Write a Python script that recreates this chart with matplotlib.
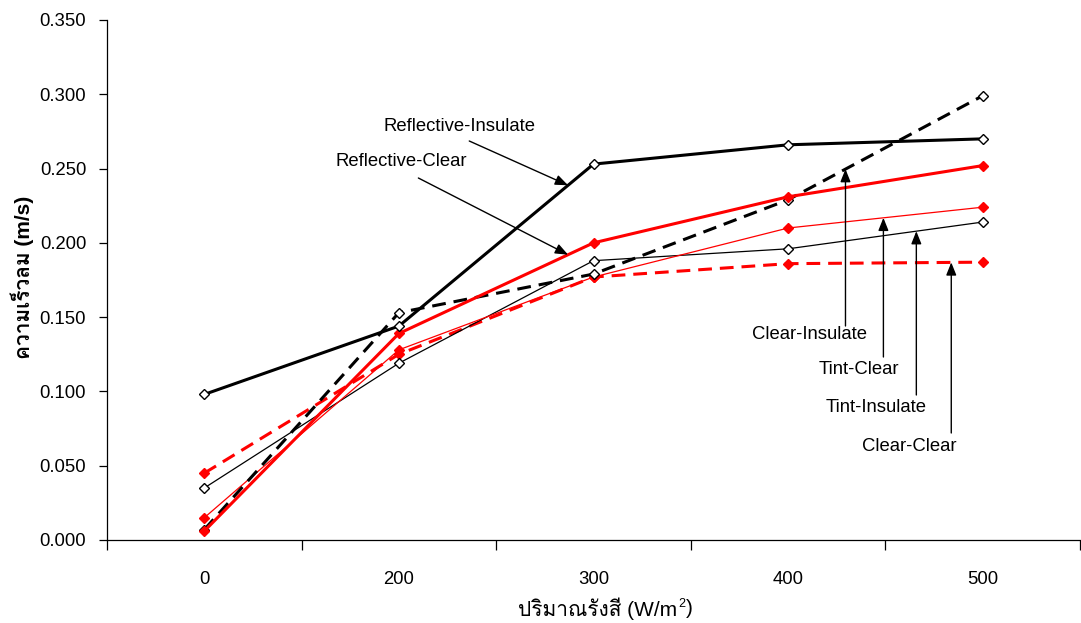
import numpy as np
import matplotlib
matplotlib.use("Agg")
import matplotlib.pyplot as plt
from matplotlib import font_manager, ft2font
from matplotlib.ticker import FixedLocator, FormatStrFormatter

# ---- data -------------------------------------------------------------
radiation = ["0", "200", "300", "400", "500"]

reflective_insulate = [0.098, 0.144, 0.253, 0.266, 0.270]
reflective_clear    = [0.006, 0.139, 0.200, 0.231, 0.252]
clear_insulate      = [0.007, 0.153, 0.179, 0.229, 0.299]
tint_clear          = [0.015, 0.128, 0.177, 0.210, 0.224]
tint_insulate       = [0.035, 0.119, 0.188, 0.196, 0.214]
clear_clear         = [0.045, 0.125, 0.177, 0.186, 0.187]

x_label_main = "ปริมาณรังสี (W/m"
x_label_sup = "2"
x_label_end = ")"
y_label = "ความเร็วลม (m/s)"


# ---- fonts: Latin face plus a face that covers Thai --------------------
def find_thai_family():
    seen = set()
    for f in font_manager.fontManager.ttflist:
        if f.fname in seen:
            continue
        seen.add(f.fname)
        try:
            cmap = ft2font.FT2Font(f.fname).get_charmap()
        except Exception:
            continue
        if 0x0E1B in cmap and 0x0E21 in cmap:
            return f.name
    return None


thai = find_thai_family()
families = ["Liberation Sans"] + ([thai] if thai else []) + ["DejaVu Sans"]
plt.rcParams["font.family"] = families

W, H, DPI = 1081, 623, 100
fig = plt.figure(figsize=(W / DPI, H / DPI), dpi=DPI)
ax = fig.add_axes([107 / W, 1 - 540 / H, (1080 - 107) / W, (540 - 20) / H])

xi = np.arange(len(radiation))

THICK, THIN = 2.2, 0.9
dash = (0, (4.5, 2.6))
ms = 4.6
FS = 13.3


def open_marks(color="black"):
    return dict(marker="D", markersize=ms, markerfacecolor="white",
                markeredgecolor=color, markeredgewidth=1.0)


def solid_marks(color="red"):
    return dict(marker="D", markersize=ms + 0.6, markerfacecolor=color,
                markeredgecolor=color, markeredgewidth=1.0)


ax.plot(xi, clear_clear, color="red", lw=THICK, linestyle=dash, **solid_marks(), zorder=3)
ax.plot(xi, tint_insulate, color="black", lw=THIN, **open_marks(), zorder=3)
ax.plot(xi, tint_clear, color="red", lw=THIN, **solid_marks(), zorder=3)
ax.plot(xi, clear_insulate, color="black", lw=THICK, linestyle=dash, **open_marks(), zorder=4)
ax.plot(xi, reflective_clear, color="red", lw=THICK, **solid_marks(), zorder=4)
ax.plot(xi, reflective_insulate, color="black", lw=THICK, **open_marks(), zorder=5)

# ---- axes -------------------------------------------------------------
ax.set_xlim(-0.5, len(radiation) - 0.5)
ax.set_ylim(0, 0.35)
ax.spines["top"].set_visible(False)
ax.spines["right"].set_visible(False)
for s in ("left", "bottom"):
    ax.spines[s].set_linewidth(0.9)
    ax.spines[s].set_color("black")

ax.yaxis.set_major_locator(FixedLocator(np.arange(0, 0.351, 0.05)))
ax.yaxis.set_major_formatter(FormatStrFormatter("%.3f"))
ax.tick_params(axis="y", direction="out", length=6, width=0.9, labelsize=FS, pad=9)

# category boundaries carry the tick marks, centres carry the labels
ax.xaxis.set_major_locator(FixedLocator(np.arange(-0.5, len(radiation), 1.0)))
ax.xaxis.set_major_formatter(plt.NullFormatter())
ax.xaxis.set_minor_locator(FixedLocator(xi))
ax.set_xticklabels(radiation, minor=True)
ax.tick_params(axis="x", which="major", direction="out", length=7, width=0.9)
ax.tick_params(axis="x", which="minor", length=0, labelsize=FS, pad=22)

fig.text(22 / W, 1 - 277 / H, y_label, rotation=90, ha="center", va="center",
         fontsize=15, fontweight="bold")

# x label: Thai text with a raised "2" for W/m²
main = fig.text(518 / W, 1 - 609 / H, x_label_main, ha="left", va="center",
                fontsize=15)
fig.canvas.draw()
r = fig.canvas.get_renderer()
bb = main.get_window_extent(r)
sup = fig.text((bb.x1 + 1) / W, (bb.y1 - 6) / H, x_label_sup, ha="left",
               va="center", fontsize=9)
bb2 = sup.get_window_extent(r)
fig.text((bb2.x1 + 1) / W, 1 - 609 / H, x_label_end, ha="left", va="center",
         fontsize=15)


# ---- callouts ---------------------------------------------------------
def px_to_data(px, py):
    return (px - 204.5) / 195.0, (540 - py) / 1485.7


arrow = dict(arrowstyle="-|>,head_length=0.55,head_width=0.22", lw=1.0,
             color="black", mutation_scale=14, shrinkA=0, shrinkB=0)


def callout(text, series, head_px, tail_px, text_px, vertical=False):
    hx, _ = px_to_data(*head_px)
    hy = float(np.interp(hx, xi, series))
    tx, ty = px_to_data(*tail_px)
    if vertical:
        tx = hx
    ax.annotate("", xy=(hx, hy), xytext=(tx, ty), arrowprops=arrow, zorder=6)
    lx, ly = px_to_data(*text_px)
    ax.text(lx, ly, text, ha="center", va="center", fontsize=FS, zorder=7)


callout("Reflective-Insulate", reflective_insulate, (569, 190), (470, 141), (460, 127))
callout("Reflective-Clear", reflective_clear, (569, 253), (419, 178), (402, 162))
callout("Clear-Insulate", clear_insulate, (847, 169), (847, 326), (811, 335), vertical=True)
callout("Tint-Clear", tint_clear, (885, 218), (885, 357), (860, 370), vertical=True)
callout("Tint-Insulate", tint_insulate, (918, 231), (918, 395), (878, 408), vertical=True)
callout("Clear-Clear", clear_clear, (953, 261), (953, 433), (911, 447), vertical=True)

fig.savefig("out.png", dpi=DPI)
